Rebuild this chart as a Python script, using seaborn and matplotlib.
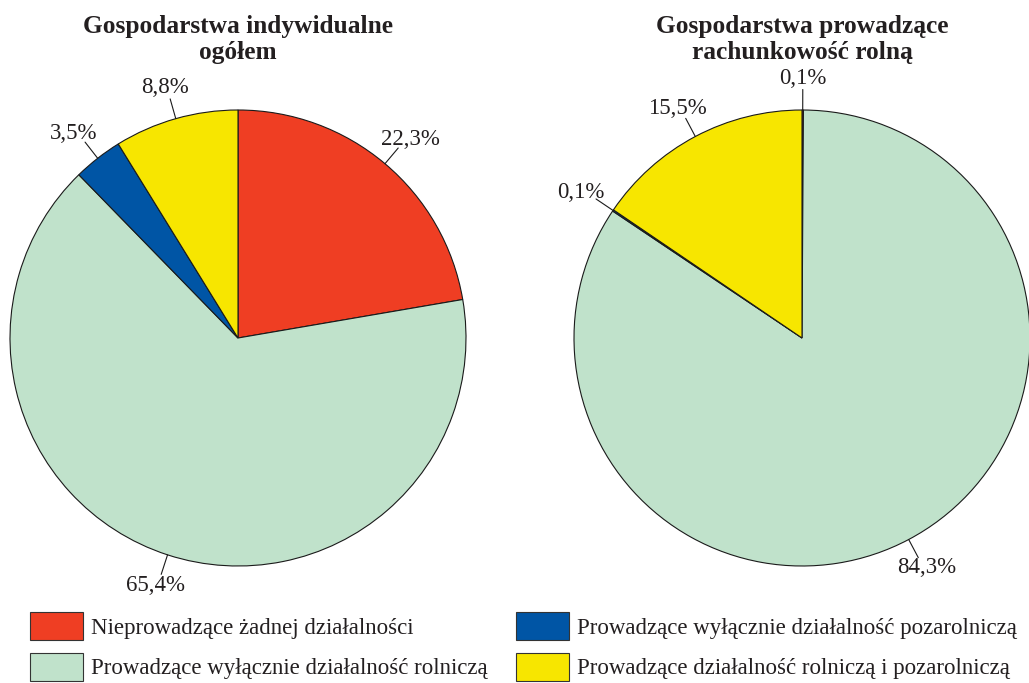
import matplotlib
matplotlib.use("Agg")
import matplotlib.pyplot as plt
import matplotlib.patches as mpatches
import numpy as np
import seaborn as sns

categories = [
    "Nieprowadzące żadnej działalności",
    "Prowadzące wyłącznie działalność rolniczą",
    "Prowadzące wyłącznie działalność pozarolniczą",
    "Prowadzące działalność rolniczą i pozarolniczą",
]
titles = ["Gospodarstwa indywidualne\nogółem", "Gospodarstwa prowadzące\nrachunkowość rolną"]
ogolem = [22.3, 65.4, 3.5, 8.8]
rachunkowosc = [0.1, 84.3, 0.1, 15.5]
colors = ["#EF3E23", "#C0E2CB", "#0055A5", "#F7E600"]

sns.set_theme(style="white")
plt.rcParams["font.family"] = ["Liberation Serif", "DejaVu Serif"]

W, H = 1029, 683
fig = plt.figure(figsize=(W / 100, H / 100), dpi=100)

R = 228  # pie radius in px
L = 1.25
centers = [(238, 338), (802, 338)]

for (cx, cy), vals, title in zip(centers, [ogolem, rachunkowosc], titles):
    ax = fig.add_axes([(cx - L * R) / W, (H - cy - L * R) / H, 2 * L * R / W, 2 * L * R / H])
    wedges, _ = ax.pie(vals, colors=colors, startangle=90, counterclock=False, radius=1,
                       wedgeprops=dict(edgecolor="#1a1a1a", linewidth=0.8))
    for w, v in zip(wedges, vals):
        ang = np.deg2rad((w.theta1 + w.theta2) / 2)
        x, y = np.cos(ang), np.sin(ang)
        ax.plot([x, x * 1.09], [y, y * 1.09], color="#1a1a1a", lw=0.8)
        # push label out a bit more sideways than vertically (text is wide)
        tx = x * 1.09 + x * 0.08
        ty = y * 1.09 + y * 0.05
        ax.text(tx, ty, f"{v:.1f}".replace(".", ",") + "%",
                ha="center", va="center", fontsize=16.5, color="#231f20")
    ax.set_xlim(-L, L)
    ax.set_ylim(-L, L)
    ax.set_aspect("equal")
    ax.axis("off")
    fig.text(cx / W, 1 - 15 / H, title, ha="center", va="top", fontsize=18.3,
             fontweight="bold", linespacing=1.15, color="#231f20")

handles = [mpatches.Patch(facecolor=c, edgecolor="#333333", linewidth=0.8) for c in colors]
fig.legend(handles, categories, ncol=2, loc="lower left", bbox_to_anchor=(19 / W, -9 / H),
           frameon=False, fontsize=16.5, handlelength=2.3, handleheight=1.5,
           labelspacing=0.55, columnspacing=1.25, handletextpad=0.35,
           labelcolor="#231f20", borderaxespad=0.1)

fig.savefig("out.png", dpi=100)
